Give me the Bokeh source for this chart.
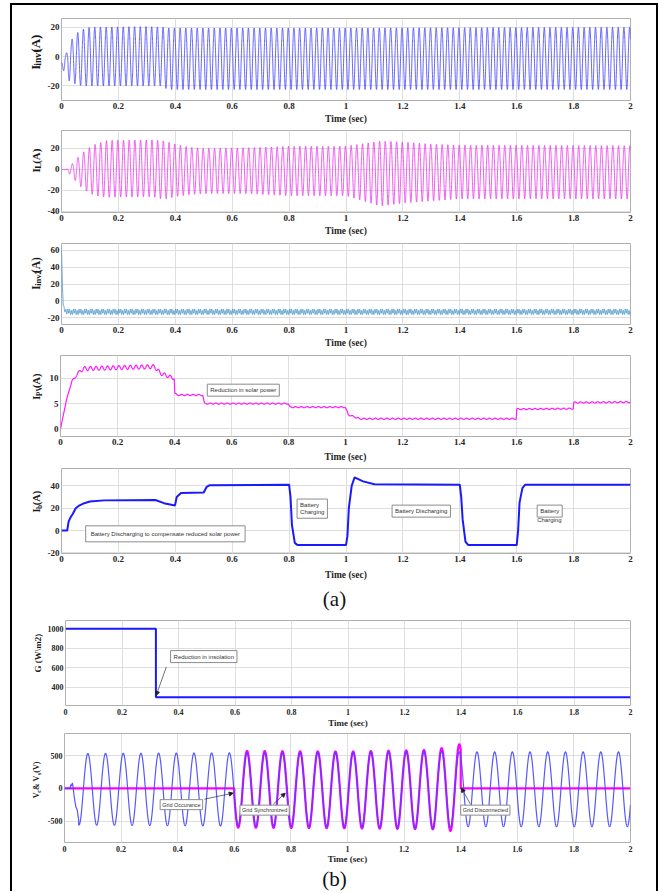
import numpy as np
from bokeh.plotting import figure
from bokeh.layouts import column, row
from bokeh.models import (Range1d, FixedTicker, CustomJSTickFormatter, Label,
                          Arrow, NormalHead)
from bokeh.core.properties import value
from bokeh.embed import file_html
from bokeh.resources import INLINE

# ---------------- data ----------------
x_ticks = [0, 0.2, 0.4, 0.6, 0.8, 1.0, 1.2, 1.4, 1.6, 1.8, 2.0]

# (1) inverter-1 current, 50 Hz; envelopes of positive / negative peaks
iinv1_freq = 50.0
iinv1_t_peak = 0.017
iinv1_env_t = [0.0, 0.01, 0.02, 0.03, 0.04, 0.06, 0.08, 0.10, 0.30, 0.36, 0.37, 1.00, 2.00]
iinv1_pos = [0.5, 2.0, 5.0, 9.0, 13.0, 17.0, 19.0, 20.0, 20.5, 20.0, 19.5, 19.5, 20.0]
iinv1_neg = [2.0, 8.0, 14.0, 17.0, 18.0, 19.5, 20.0, 20.0, 20.0, 20.0, 22.5, 22.5, 22.5]
iinv1_off_t = [0.0, 0.015, 0.03]
iinv1_off = [-4.5, -2.0, 0.0]

# (2) load current, 50 Hz
il_freq = 50.0
il_t_peak = 0.018
il_env_t = [0.0, 0.02, 0.03, 0.05, 0.07, 0.10, 0.12, 0.16, 0.32, 0.36, 0.40, 0.45, 0.50,
            0.65, 0.80, 1.00, 1.05, 1.12, 1.20, 1.30, 1.40, 2.00]
il_pos = [0, 0, 3, 9, 15, 21, 24, 27.5, 28, 27, 24, 21, 20, 20.5, 22, 22, 24, 27, 26, 24, 23, 22.5]
il_neg = [0, 0, 5, 11, 17, 23, 25, 26.5, 26, 28.5, 26, 24, 23, 23, 25, 25, 29, 35, 32, 30, 28, 28]

# (3) inverter-2 current: initial spike then rippled level
iinv2_t = [0.0, 0.003, 0.006, 0.01, 0.02, 2.0]
iinv2_level = [60, 20, -5, -10, -13, -13]
iinv2_rip_t = [0.0, 0.006, 0.01, 0.02, 2.0]
iinv2_rip = [0.0, 0.5, 2.5, 3.5, 3.5]

# (4) PV current
ipv_t = [0, 0.02, 0.04, 0.05, 0.06, 0.08, 0.33, 0.35, 0.399, 0.401, 0.41, 0.499, 0.505,
         0.799, 0.805, 0.999, 1.01, 1.05, 1.599, 1.601, 1.799, 1.801, 2.0]
ipv_val = [0, 5.5, 9.5, 10, 11, 11.9, 12.3, 11, 10, 7.0, 6.7, 6.7, 5.0, 5.0, 4.3, 4.3,
           2.8, 2.0, 2.0, 3.9, 4.0, 5.2, 5.3]
ipv_rip_t = [0, 0.06, 0.08, 0.33, 0.40, 0.401, 2.0]
ipv_rip = [0, 0.2, 0.4, 0.4, 0.3, 0.12, 0.12]

# (5) battery current
ib_t = [0, 0.02, 0.025, 0.03, 0.04, 0.05, 0.06, 0.08, 0.1, 0.15, 0.33, 0.36, 0.399, 0.405,
        0.42, 0.5, 0.51, 0.52, 0.8, 0.805, 0.81, 0.82, 0.83, 1.0, 1.005, 1.01, 1.02, 1.03,
        1.06, 1.1, 1.4, 1.405, 1.41, 1.42, 1.43, 1.6, 1.605, 1.61, 1.62, 1.63, 2.0]
ib_val = [0, 0, 8, 11, 15, 20, 22, 24.5, 26, 27, 27.3, 24.5, 22.5, 30, 33.5, 34, 39, 40.5,
          41, 30, 5, -11, -13, -13, -5, 20, 40, 47.5, 44, 41.5, 41, 30, 10, -10, -13, -13,
          0, 25, 38, 41, 41]

# (6) insolation
g_t = [0, 0.32, 0.32, 2.0]
g_val = [1000, 1000, 300, 300]

# (7) converter / grid voltage, 16 Hz
v_freq = 16.0
v_t_peak = 0.0825
vc_start_t = [0, 0.02, 0.022, 0.025, 0.028, 0.03, 0.035, 0.04, 0.045, 0.05]
vc_start_v = [0, 0, 60, 40, 85, 30, -150, -280, -330, -480]
vc_env_t = [0.05, 0.6, 1.0, 1.3, 1.4, 2.0]
vc_pos = [535, 545, 555, 575, 560, 560]
vc_neg = [560, 575, 590, 615, 585, 585]
vs_on, vs_off = 0.6, 1.4
vs_env_t = [0.6, 1.0, 1.3, 1.36, 1.4]
vs_pos = [575, 565, 590, 640, 680]
vs_neg = [600, 610, 625, 650, 650]

# ---------------- helpers ----------------
SERIF = "Liberation Serif"
SANS = "Liberation Sans"
LAB_W = 32          # label strip: page x 12..44
MAIN_W = 612        # main figure: page x 44..656
RIGHT = 26          # frame right edge at page x 630
t = np.linspace(0, 2, 12001)


def wave(tt, f, tp, et, ep, en):
    s = np.cos(2 * np.pi * f * (tt - tp))
    return np.where(s >= 0, s * np.interp(tt, et, ep), s * np.interp(tt, et, en))


FMT = "return String(Math.round(tick*10)/10);"

WIDTHS = {"I": .389, "(": .333, ")": .333, "A": .722, " ": .25, "i": .278, "n": .556,
          "v": .5, "1": .5, "2": .5, "L": .667, "P": .611, "V": .722, "b": .556,
          "c": .444, "s": .389, "&": .833, "G": .778, "W": 1.0, "m": .833, "\\": .278}


def tw(s, size):
    return sum(WIDTHS.get(c, .5) for c in s) * size * 1.08 + 0.6


def bare(w, h, xr, yr):
    c = figure(width=w, height=h, x_range=Range1d(*xr), y_range=Range1d(*yr),
               output_backend="svg", toolbar_location=None,
               x_axis_location=None, y_axis_location=None,
               min_border_left=0, min_border_right=0, min_border_top=0, min_border_bottom=0)
    c.outline_line_color = None
    c.grid.visible = False
    return c


def make_fig(h, top, bottom, left, yr, yticks, tsize, lsize, tstd=2, lstd=2):
    p = figure(width=MAIN_W, height=h, x_range=Range1d(0, 2), y_range=Range1d(*yr),
               output_backend="svg", toolbar_location=None,
               min_border_left=left, min_border_right=RIGHT,
               min_border_top=top, min_border_bottom=bottom)
    p.outline_line_color = "#b0b0b0"
    p.xaxis.ticker = FixedTicker(ticks=x_ticks)
    p.yaxis.ticker = FixedTicker(ticks=yticks)
    for ax in (p.xaxis[0], p.yaxis[0]):
        ax.formatter = CustomJSTickFormatter(code=FMT)
        ax.axis_line_color = None
        ax.major_tick_line_color = None
        ax.minor_tick_line_color = None
        ax.major_tick_out = 0
        ax.major_tick_in = 0
        ax.minor_tick_out = 0
        ax.minor_tick_in = 0
        ax.major_label_text_font = SERIF
        ax.major_label_text_font_style = "bold"
        ax.major_label_text_font_size = f"{tsize}px"
        ax.major_label_text_color = "#262626"
    p.xaxis.major_label_standoff = tstd
    p.yaxis.major_label_standoff = 2
    p.xaxis.axis_label = "Time (sec)"
    p.xaxis.axis_label_text_font = SERIF
    p.xaxis.axis_label_text_font_style = "bold"
    p.xaxis.axis_label_text_font_size = f"{lsize}px"
    p.xaxis.axis_label_text_color = "#262626"
    p.xaxis.axis_label_standoff = lstd
    p.grid.grid_line_color = "#dedede"
    p.grid.grid_line_width = 1
    return p


def label_strip(h, top, fh, pieces, xc):
    c = bare(LAB_W, h, (0, LAB_W), (0, h))
    total = sum(tw(s, z) for s, z, dx in pieces)
    y = h - (top + fh / 2) - total / 2
    for s, z, dx in pieces:
        c.text(x=[xc + dx], y=[y], text=[s], angle=np.pi / 2, text_align="left",
               text_baseline="middle", text_font=value(SERIF), text_font_style="bold",
               text_font_size=f"{z}px", text_color="#1a1a1a")
        y += tw(s, z)
    return c


def note(p, x, y, text, size=6, pad=3, box=True):
    kw = dict(background_fill_color="white", border_line_color="#8c8c8c",
              border_line_width=1, padding=pad) if box else {}
    p.add_layout(Label(x=x, y=y, text=text, text_font=SANS, text_font_size=f"{size}px",
                       text_color="#333333", text_align="left", text_baseline="middle", **kw))


def arrow(p, x0, y0, x1, y1):
    p.add_layout(Arrow(end=NormalHead(size=4, fill_color="#222222", line_color="#222222"),
                       x_start=x0, y_start=y0, x_end=x1, y_end=y1,
                       line_color="#333333", line_width=0.7))


def caption(h, text, yc):
    c = bare(LAB_W + MAIN_W, h, (0, LAB_W + MAIN_W), (0, h))
    c.text(x=[322], y=[yc], text=[text], text_align="center",
           text_baseline="middle", text_font=value(SERIF), text_font_size="21px",
           text_color="#111111")
    return c


rows = []

# ---------------- panel 1 ----------------
yr1 = (-30, 26)
p1 = make_fig(123, 13, 28, 14, yr1, [-20, 0, 20], 9, 9.5)
y1 = wave(t, iinv1_freq, iinv1_t_peak, iinv1_env_t, iinv1_pos, iinv1_neg) + \
    np.interp(t, iinv1_off_t, iinv1_off)
p1.line(t, y1, line_color="#3b3bff", line_width=0.8)
rows.append(row(label_strip(123, 13, 82, [("I", 13, 0), ("inv1", 9.5, 2.5), ("(A)", 13, 0)], 23), p1))

# ---------------- panel 2 ----------------
yr2 = (-41, 37)
p2 = make_fig(112, 2, 28, 14, yr2, [-40, -20, 0, 20], 9, 9.5)
y2 = wave(t, il_freq, il_t_peak, il_env_t, il_pos, il_neg)
p2.line(t, y2, line_color="#ee2cee", line_width=0.8)
rows.append(row(label_strip(112, 2, 82, [("I", 11, 0), ("L", 8.5, 2.5), ("(A)", 11, 0)], 23), p2))

# ---------------- panel 3 ----------------
yr3 = (-28, 68)
p3 = make_fig(112, 3, 28, 14, yr3, [-20, 0, 20, 40, 60], 9, 9.5)
rip3 = np.interp(t, iinv2_rip_t, iinv2_rip)
y3 = np.interp(t, iinv2_t, iinv2_level) + rip3 * (0.75 * np.sin(2 * np.pi * 150 * t)
                                                   + 0.3 * np.sin(2 * np.pi * 50 * t))
p3.line(t, y3, line_color="#3a8fc8", line_width=0.8)
rows.append(row(label_strip(112, 3, 81, [("I", 11.5, 0), ("inv2", 8.5, 2.5), ("(A)", 11.5, 0)], 23), p3))

# ---------------- panel 4 ----------------
yr4 = (-1.5, 14.5)
p4 = make_fig(112, 3, 28, 16, yr4, [0, 5, 10], 9, 9.5, lstd=4)
y4 = np.interp(t, ipv_t, ipv_val) + np.interp(t, ipv_rip_t, ipv_rip) * np.sin(2 * np.pi * 50 * t)
p4.line(t, y4, line_color="#ff1aff", line_width=1.2)
note(p4, 0.515, 7.65, "Reduction in solar power")
rows.append(row(label_strip(112, 3, 81, [("I", 10.5, 0), ("PV", 7.5, 2.5), (" (A)", 10.5, 0)], 24), p4))

# ---------------- panel 5 ----------------
yr5 = (-20.5, 55.5)
p5 = make_fig(118, 4, 29, 16, yr5, [-20, 0, 20, 40], 9, 9.5, lstd=5)
p5.line(ib_t, ib_val, line_color="#1a1aff", line_width=2)
note(p5, 0.085, -2.9, "Battery Discharging to compensate reduced solar power", pad=5)
note(p5, 0.828, 19.6, "Battery\nCharging", pad=3)
note(p5, 1.162, 17.4, "Battery Discharging", pad=3)
note(p5, 1.672, 17.4, "Battery", pad=3)
note(p5, 1.672, 9.5, "Charging", box=False)
rows.append(row(label_strip(118, 4, 85, [("I", 10.5, 0), ("b", 7.5, 2.5), (" (A)", 10.5, 0)], 24), p5))

# ---------------- (a) ----------------
rows.append(caption(30, "(a)", 13.5))

# ---------------- panel 6 ----------------
yr6 = (215, 1084)
p6 = make_fig(118, 8, 24, 18, yr6, [400, 600, 800, 1000], 8, 9, tstd=3, lstd=0)
p6.line(g_t, g_val, line_color="#1a1aff", line_width=2)
note(p6, 0.372, 715, "Reduction in insolation", pad=3)
arrow(p6, 0.357, 609, 0.321, 318)
rows.append(row(label_strip(118, 8, 86, [("G (W\\m2)", 9, 0)], 25), p6))

# ---------------- panel 7 ----------------
yr7 = (-828, 842)
p7 = make_fig(136, 3, 24, 20, yr7, [-500, 0, 500], 8, 9, tstd=3, lstd=-1)
vs = np.where((t >= vs_on) & (t <= vs_off),
              wave(t, v_freq, v_t_peak, vs_env_t, vs_pos, vs_neg), 0.0)
p7.line(t, vs, line_color="#ff00ff", line_width=2.2)
vc = np.where(t < vc_start_t[-1], np.interp(t, vc_start_t, vc_start_v),
              wave(t, v_freq, v_t_peak, vc_env_t, vc_pos, vc_neg))
p7.line(t, vc, line_color="#4646ff", line_width=1.2, line_alpha=0.9)
note(p7, 0.338, -248, "Grid Occurance", size=5.5, pad=2)
arrow(p7, 0.494, -164, 0.596, -72)
note(p7, 0.62, -332, "Grid Synchronized", size=5.5, pad=2)
arrow(p7, 0.738, -240, 0.78, -72)
note(p7, 1.40, -332, "Grid Disconnected", size=5.5, pad=2)
arrow(p7, 1.434, -240, 1.403, 5)
rows.append(row(label_strip(136, 3, 109,
                            [("V", 8, 0), ("c", 6, 2.2), (" & V", 8, 0), ("s", 6, 2.2), (" (V)", 8, 0)],
                            24), p7))

# ---------------- (b) ----------------
rows.append(caption(25, "(b)", 12.5))

boxed = column(*rows, spacing=0,
               styles={"border-top": "2px solid black", "border-left": "2px solid black",
                       "border-right": "2px solid black"})
layout = column(bare(LAB_W + MAIN_W, 3, (0, 1), (0, 1)),
                row(bare(10, 880, (0, 1), (0, 1)), boxed, spacing=0),
                spacing=0)

open("out.html", "w").write(file_html(layout, INLINE))
